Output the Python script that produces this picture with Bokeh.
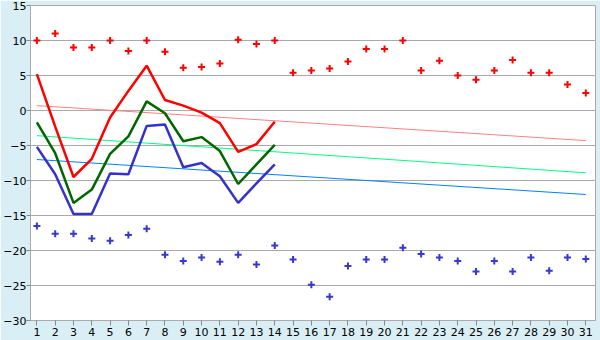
from bokeh.plotting import figure
from bokeh.models import FixedTicker, Range1d
from bokeh.embed import file_html
from bokeh.resources import INLINE

days = list(range(1, 32))
tmax = [10, 11, 9, 9, 10, 8.5, 10, 8.4, 6.1, 6.2, 6.7, 10.1, 9.5, 10, 5.4, 5.7,
        6.0, 7.0, 8.8, 8.8, 10, 5.7, 7.1, 5.0, 4.4, 5.7, 7.2, 5.4, 5.4, 3.7, 2.5]
tmin = [-16.5, -17.6, -17.6, -18.3, -18.6, -17.8, -16.9, -20.6, -21.5, -21.0, -21.6,
        -20.6, -22.0, -19.3, -21.3, -24.9, -26.6, -22.2, -21.3, -21.3, -19.6, -20.5,
        -21.0, -21.5, -23.0, -21.5, -23.0, -21.0, -22.9, -21.0, -21.2]

line_days = list(range(1, 15))
red_line = [5.2, -2.3, -9.5, -6.9, -1.0, 2.8, 6.4, 1.5, 0.7, -0.3, -1.8, -5.9, -4.8, -1.6]
green_line = [-1.7, -6.1, -13.2, -11.3, -6.2, -3.7, 1.3, -0.4, -4.4, -3.8, -5.8, -10.5, -7.7, -4.9]
blue_line = [-5.2, -9.1, -14.8, -14.8, -9.0, -9.1, -2.2, -2.0, -8.1, -7.5, -9.4, -13.2, -10.4, -7.7]

trend_days = [1, 31]
trend_red = [0.7, -4.3]
trend_green = [-3.6, -8.9]
trend_blue = [-7.0, -12.0]

y_ticks = [-30, -25, -20, -15, -10, -5, 0, 5, 10, 15]

p = figure(width=600, height=340, output_backend="svg", toolbar_location=None,
           x_range=Range1d(0.65, 31.53), y_range=Range1d(-30, 15),
           min_border_left=0, min_border_right=5, min_border_top=5, min_border_bottom=20)
p.border_fill_color = "#D9EFF5"
p.background_fill_color = "white"
p.outline_line_color = "#AAAAAA"

p.xgrid.grid_line_color = None
p.ygrid.grid_line_color = "#AAAAAA"
p.ygrid.ticker = FixedTicker(ticks=y_ticks)

for ax in (p.xaxis[0], p.yaxis[0]):
    ax.axis_line_color = "#AAAAAA"
    ax.major_tick_line_color = "#888888"
    ax.minor_tick_line_color = None
    ax.major_tick_in = 0
    ax.major_tick_out = 5
    ax.major_label_text_font = "DejaVu Sans"
    ax.major_label_text_font_size = "11px"
    ax.major_label_text_color = "black"
    ax.major_label_standoff = 2
p.yaxis.major_label_standoff = 0
p.yaxis.major_tick_out = 4
p.xaxis.ticker = FixedTicker(ticks=days)
p.yaxis.ticker = FixedTicker(ticks=y_ticks)

p.line(trend_days, trend_red, line_color="#FF8080", line_width=1)
p.line(trend_days, trend_green, line_color="#00FF80", line_width=1)
p.line(trend_days, trend_blue, line_color="#0080FF", line_width=1)

p.line(line_days, red_line, line_color="#FF0000", line_width=2.5)
p.line(line_days, green_line, line_color="#006600", line_width=2.5)
p.line(line_days, blue_line, line_color="#3333CC", line_width=2.5)

p.scatter(days, tmax, marker="cross", size=7, line_width=2, line_color="#FF0000")
p.scatter(days, tmin, marker="cross", size=7, line_width=2, line_color="#3838CC")

open("out.html", "w").write(file_html(p, INLINE))
